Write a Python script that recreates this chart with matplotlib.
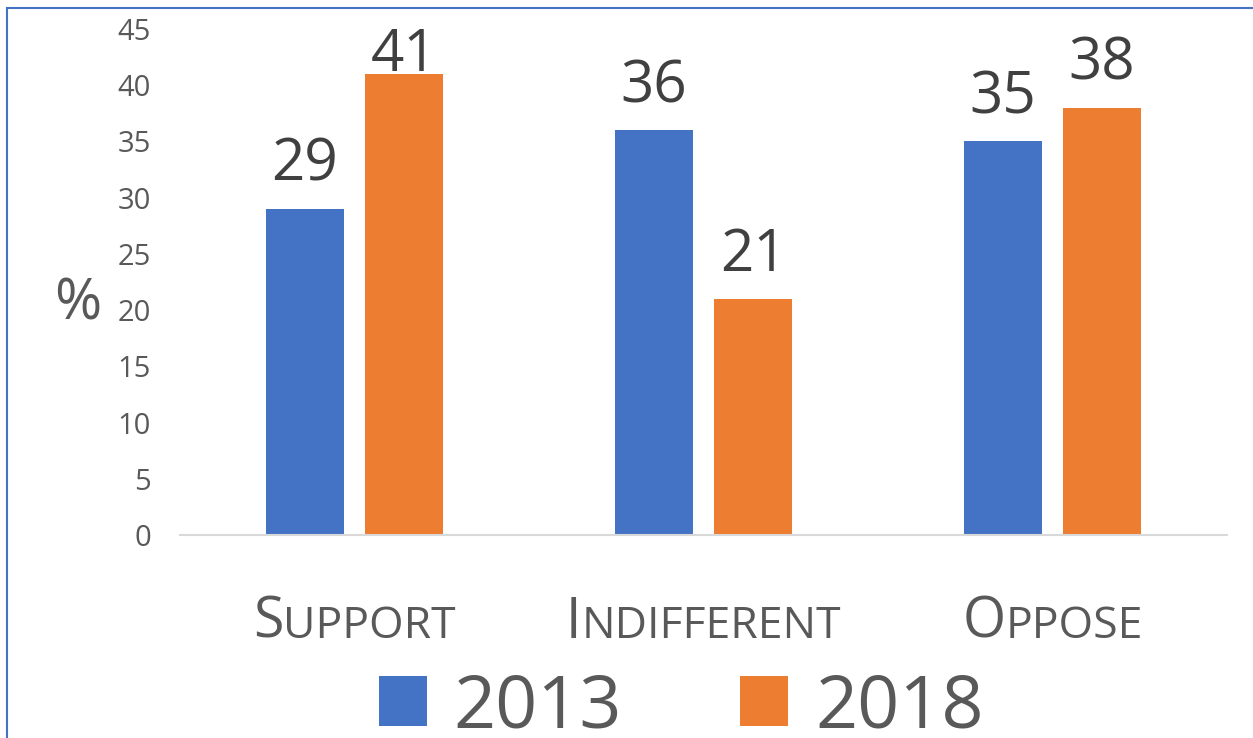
import matplotlib
matplotlib.use('Agg')
import matplotlib.pyplot as plt
import matplotlib.patches as mpatches
from matplotlib.offsetbox import TextArea, HPacker, AnnotationBbox
import numpy as np

plt.rcParams['font.family'] = ['Open Sans', 'DejaVu Sans']

# data
categories = ['Support', 'Indifferent', 'Oppose']
years = ['2013', '2018']
vals_2013 = [29, 36, 35]
vals_2018 = [41, 21, 38]
yticks = [0, 5, 10, 15, 20, 25, 30, 35, 40, 45]

blue = '#4472C4'
orange = '#ED7D31'
grey = '#595959'
dark = '#404040'

W, H = 1253, 738
fig = plt.figure(figsize=(W / 100, H / 100), dpi=100)
ax = fig.add_axes([180 / W, 1 - 535 / H, (1227 - 180) / W, (535 - 29) / H])

x = np.arange(len(categories))
bw = 0.2235
off = 0.142
b1 = ax.bar(x - off, vals_2013, bw, color=blue, label=years[0], zorder=2)
b2 = ax.bar(x + off, vals_2018, bw, color=orange, label=years[1], zorder=2)

ax.set_xlim(-0.5, len(categories) - 0.5)
ax.set_ylim(0, 45)
ax.set_yticks(yticks)
ax.tick_params(axis='y', length=0, pad=21, labelsize=21, labelcolor=grey)
ax.set_xticks([])
for s in ['top', 'right', 'left']:
    ax.spines[s].set_visible(False)
ax.spines['bottom'].set_color('#D9D9D9')
ax.spines['bottom'].set_linewidth(1.5)

# data labels (pushed down if they would leave the plot area)
px_per_unit = (535 - 29) / 45
for bars in (b1, b2):
    for r in bars:
        v = r.get_height()
        gap_px = min(28, (45 - v) * px_per_unit - 42)
        ax.annotate(str(int(v)), (r.get_x() + r.get_width() / 2, v),
                    xytext=(0, gap_px * 0.72), textcoords='offset points',
                    ha='center', va='baseline', fontsize=42, color=dark,
                    annotation_clip=False)

# small caps category labels
for i, cat in enumerate(categories):
    first = TextArea(cat[0].upper(), textprops=dict(fontsize=40, color=grey))
    rest = TextArea(cat[1:].upper(), textprops=dict(fontsize=32, color=grey))
    box = HPacker(children=[first, rest], align='baseline', pad=0, sep=0)
    ab = AnnotationBbox(box, (i, 0), xycoords=('data', 'axes fraction'),
                        xybox=(0, -43), boxcoords='offset points',
                        box_alignment=(0.5, 1), frameon=False,
                        annotation_clip=False)
    ax.add_artist(ab)

fig.text(78 / W, 1 - 305 / H, '%', fontsize=41, color=grey, ha='center', va='center')

leg = fig.legend(loc='center', bbox_to_anchor=(681 / W, 1 - 708 / H), ncol=2,
                 frameon=False, fontsize=53, handlelength=0.66, handleheight=0.66,
                 handletextpad=0.36, columnspacing=1.6, borderpad=0, labelcolor=grey)

# outer border
fig.add_artist(mpatches.Rectangle((7 / W, -0.1), 1.2, 1.1 - 8 / H, transform=fig.transFigure,
                                  fill=False, edgecolor=blue, linewidth=1.5))

fig.savefig('out.png', dpi=100)
